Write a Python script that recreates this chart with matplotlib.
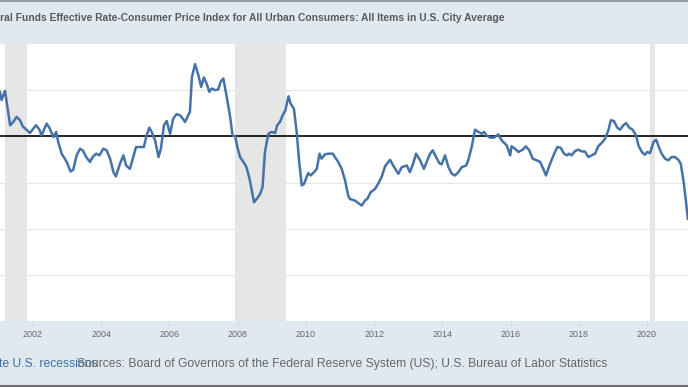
import numpy as np
import matplotlib
matplotlib.use("Agg")
import matplotlib.pyplot as plt
from matplotlib.lines import Line2D

# FEDFUNDS - CPI (yoy %)
dates = [
    2001.03, 2001.08, 2001.13, 2001.18, 2001.25, 2001.33, 2001.42, 2001.52, 2001.62, 2001.70,
    2001.82, 2001.91, 2002.01, 2002.09, 2002.19, 2002.25, 2002.40, 2002.48, 2002.60, 2002.68,
    2002.74, 2002.84, 2002.99, 2003.10, 2003.18, 2003.28, 2003.38, 2003.46, 2003.55, 2003.67,
    2003.75, 2003.85, 2003.95, 2004.06, 2004.16, 2004.26, 2004.36, 2004.43, 2004.55, 2004.65,
    2004.73, 2004.84, 2004.94, 2005.02, 2005.14, 2005.25, 2005.33, 2005.41, 2005.48, 2005.58,
    2005.68, 2005.75, 2005.84, 2005.92, 2006.02, 2006.11, 2006.21, 2006.31, 2006.39, 2006.46,
    2006.55, 2006.60, 2006.66, 2006.75, 2006.85, 2006.93, 2007.01, 2007.09, 2007.17, 2007.24,
    2007.34, 2007.43, 2007.50, 2007.58, 2007.68, 2007.78, 2007.85, 2007.93, 2007.99, 2008.07,
    2008.17, 2008.26, 2008.36, 2008.48, 2008.56, 2008.66, 2008.73, 2008.80, 2008.90, 2009.00,
    2009.10, 2009.16, 2009.24, 2009.32, 2009.40, 2009.49, 2009.55, 2009.65, 2009.73, 2009.81,
    2009.88, 2009.95, 2010.02, 2010.07, 2010.14, 2010.24, 2010.32, 2010.40, 2010.46, 2010.56,
    2010.66, 2010.79, 2010.85, 2010.95, 2011.05, 2011.15, 2011.24, 2011.29, 2011.44, 2011.54,
    2011.64, 2011.73, 2011.80, 2011.90, 2012.03, 2012.12, 2012.22, 2012.32, 2012.47, 2012.56,
    2012.71, 2012.81, 2012.96, 2013.05, 2013.15, 2013.23, 2013.35, 2013.46, 2013.56, 2013.64,
    2013.72, 2013.82, 2013.91, 2013.98, 2014.08, 2014.18, 2014.28, 2014.37, 2014.47, 2014.57,
    2014.70, 2014.76, 2014.86, 2014.96, 2015.06, 2015.15, 2015.22, 2015.30, 2015.40, 2015.52,
    2015.64, 2015.74, 2015.84, 2015.89, 2015.99, 2016.03, 2016.13, 2016.23, 2016.36, 2016.45,
    2016.55, 2016.65, 2016.77, 2016.87, 2016.96, 2017.04, 2017.14, 2017.26, 2017.37, 2017.47,
    2017.57, 2017.65, 2017.72, 2017.79, 2017.89, 2017.99, 2018.09, 2018.18, 2018.28, 2018.38,
    2018.48, 2018.57, 2018.67, 2018.77, 2018.87, 2018.94, 2019.03, 2019.13, 2019.21, 2019.31,
    2019.39, 2019.48, 2019.58, 2019.68, 2019.75, 2019.85, 2019.94, 2020.01, 2020.09, 2020.19,
    2020.27, 2020.34, 2020.43, 2020.53, 2020.63, 2020.72, 2020.82, 2020.92, 2020.99, 2021.07,
    2021.14, 2021.20,
]
values = [
    2.41, 1.96, 2.23, 2.46, 1.59, 0.60, 0.78, 1.05, 0.87, 0.54,
    0.33, 0.18, 0.42, 0.60, 0.36, 0.05, 0.69, 0.47, -0.04, 0.24,
    -0.31, -0.94, -1.39, -1.90, -1.81, -1.03, -0.67, -0.76, -1.09, -1.39,
    -1.12, -0.94, -1.03, -0.67, -0.76, -1.21, -1.94, -2.17, -1.49, -1.03,
    -1.58, -1.76, -1.12, -0.58, -0.58, -0.58, 0.05, 0.47, 0.24, -0.22,
    -1.12, -0.67, 0.60, 0.83, 0.14, 0.96, 1.20, 1.14, 0.96, 0.78,
    1.14, 1.32, 3.22, 3.91, 3.31, 2.68, 3.19, 2.86, 2.41, 2.59,
    2.50, 2.54, 2.95, 3.13, 2.14, 1.05, 0.05, 0.00, -0.58, -1.12,
    -1.39, -1.67, -2.39, -3.57, -3.39, -3.12, -2.75, -0.85, 0.14, 0.24,
    0.18, 0.60, 0.78, 1.14, 1.41, 2.17, 1.78, 1.50, 0.24, -1.49,
    -2.66, -2.57, -2.21, -1.99, -2.12, -1.94, -1.76, -0.94, -1.21, -0.98,
    -0.94, -0.94, -1.12, -1.39, -1.76, -2.39, -3.21, -3.39, -3.48, -3.62,
    -3.75, -3.48, -3.39, -3.03, -2.84, -2.57, -2.21, -1.63, -1.27, -1.58,
    -2.03, -1.67, -1.58, -1.94, -1.45, -0.94, -1.30, -1.76, -1.30, -0.94,
    -0.76, -1.12, -1.45, -1.52, -1.03, -1.67, -2.03, -2.12, -1.94, -1.67,
    -1.58, -1.30, -0.58, 0.36, 0.24, 0.14, 0.24, 0.05, -0.07, -0.07,
    0.11, -0.22, -0.40, -0.49, -1.03, -0.54, -0.67, -0.85, -0.72, -0.54,
    -0.76, -1.21, -1.30, -1.39, -1.76, -2.12, -1.58, -1.03, -0.58, -0.62,
    -0.94, -1.03, -0.94, -1.03, -0.80, -0.72, -0.82, -0.82, -1.12, -1.03,
    -0.94, -0.54, -0.36, -0.13, 0.33, 0.87, 0.83, 0.47, 0.36, 0.60,
    0.72, 0.47, 0.36, 0.05, -0.49, -0.85, -1.00, -0.85, -0.91, -0.31,
    -0.18, -0.54, -0.94, -1.21, -1.30, -1.12, -1.12, -1.27, -1.49, -2.39,
    -3.48, -4.47,
]

recessions = [(2001.167, 2001.833), (2007.917, 2009.417), (2020.083, 2020.25)]
tick_years = list(range(2002, 2021, 2))

title = ("Federal Funds Effective Rate-Consumer Price Index for All Urban "
         "Consumers: All Items in U.S. City Average")
note = "Shaded areas indicate U.S. recessions"
source = ("Sources: Board of Governors of the Federal Reserve System (US); "
          "U.S. Bureau of Labor Statistics")

W, H = 688, 387
bg = "#e1e9f0"
fam = ["Liberation Sans", "DejaVu Sans"]
fig = plt.figure(figsize=(W / 100, H / 100), dpi=100, facecolor=bg)
renderer = fig.canvas.get_renderer()


def fit_size(s, target_px, weight="normal", base=10.0):
    # font size (pt) that makes string s about target_px wide
    t = fig.text(0, 0, s, fontsize=base, fontweight=weight, family=fam)
    w = t.get_window_extent(renderer).width
    t.remove()
    return base * target_px / w


# plot area spans y = 44..321 px, full width (cropped at both sides)
ax = fig.add_axes([0, (H - 321) / H, 1, 277 / H])
ax.set_facecolor("white")
for s in ax.spines.values():
    s.set_visible(False)

for a, b in recessions:
    ax.axvspan(a, b, color="#e6e6e6", lw=0, zorder=0)

for y in [-7.5, -5, -2.5, 2.5]:
    ax.axhline(y, color="#e6e6e6", lw=0.8, zorder=1)
ax.axhline(0, color="black", lw=1.2, zorder=2)

ax.plot(dates, values, color="#4572a7", lw=1.8, zorder=3,
        solid_joinstyle="round")

ax.set_xlim(2001.033, 2021.203)
ax.set_ylim(-10, 5)
ax.set_yticks([])
ax.set_xticks(tick_years)
ax.set_xticklabels([str(y) for y in tick_years])
ax.tick_params(axis="x", length=3.6, width=0.8, color="#ccd6eb",
               labelsize=6.4, labelcolor="#666666", pad=2.6)
for lab in ax.get_xticklabels():
    lab.set_family(fam)

# title: visible part "eral Funds ... Average" runs from x=0 to x=505
tsize = fit_size(title[3:], 505, weight="bold")
fig.text(505 / W, 1 - 18 / H, title, ha="right", va="center",
         fontsize=tsize, fontweight="bold", color="#595959", family=fam)

# sources from x=77 to x=605, note ends at x=97
ssize = fit_size(source, 528)
fig.text(97 / W, 1 - 364 / H, note, ha="right", va="center",
         fontsize=ssize, color="#3d6ea8", family=fam)
fig.text(77 / W, 1 - 364 / H, source, ha="left", va="center",
         fontsize=ssize, color="#666666", family=fam)

# screenshot frame lines
fig.add_artist(Line2D([0, 1], [1 - 0.5 / H, 1 - 0.5 / H], color="#8c8c8c",
                      lw=1.2, transform=fig.transFigure))
fig.add_artist(Line2D([0, 1], [1.5 / H, 1.5 / H], color="#6e6e6e",
                      lw=1.5, transform=fig.transFigure))

fig.savefig("out.png", dpi=100, facecolor=bg)
